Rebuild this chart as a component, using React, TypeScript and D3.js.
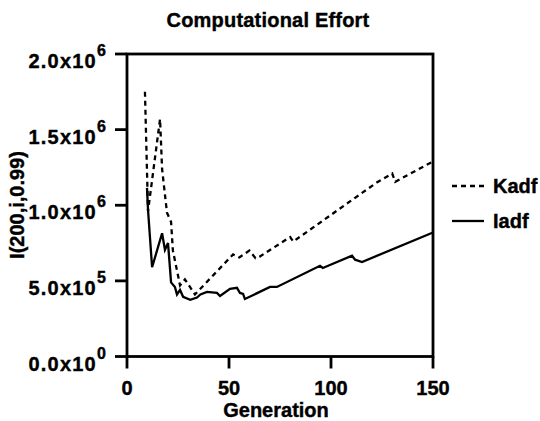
import React from 'react'
import * as d3 from 'd3'

// Kadf (dashed) — generation / computational effort
const kadfGen = [8.8, 10.3, 16.2, 17.2, 19.6, 21.6, 22.5, 26.0, 28.4, 33.3, 52, 55, 60, 63, 65, 80, 81.5, 122.4, 130, 131.5, 150]
const kadfVal = [1.75e6, 0.96e6, 1.57e6, 1.24e6, 0.95e6, 0.89e6, 0.7e6, 0.47e6, 0.51e6, 0.41e6, 0.675e6, 0.655e6, 0.7e6, 0.65e6, 0.66e6, 0.79e6, 0.76e6, 1.15e6, 1.21e6, 1.155e6, 1.29e6]

// Iadf (solid)
const iadfGen = [9.8, 10.3, 12.3, 17.2, 18.6, 20.1, 21.6, 23.5, 24.5, 26, 27.5, 31, 34.3, 36, 39.2, 44.1, 45.6, 50.5, 53.9, 55.4, 56.9, 57.8, 70.1, 73.5, 94.6, 96, 110.3, 111.8, 115.2, 150]
const iadfVal = [1.115e6, 0.97e6, 0.59e6, 0.815e6, 0.705e6, 0.75e6, 0.49e6, 0.46e6, 0.41e6, 0.44e6, 0.395e6, 0.375e6, 0.39e6, 0.41e6, 0.427e6, 0.42e6, 0.4e6, 0.447e6, 0.454e6, 0.42e6, 0.414e6, 0.38e6, 0.46e6, 0.46e6, 0.6e6, 0.585e6, 0.666e6, 0.64e6, 0.625e6, 0.82e6]

const xTicks = [0, 50, 100, 150]
const yTicks = [0, 5e5, 1e6, 1.5e6, 2e6]
const seriesNames = ['Kadf', 'Iadf']

const FONT = '"Liberation Sans", Arial, Helvetica, sans-serif'

function sciParts(v: number) {
  if (v === 0) return ['0.0', '0']
  const e = Math.floor(Math.log10(v))
  return [(v / Math.pow(10, e)).toFixed(1), String(e)]
}

export default function App() {
  const left = 127, right = 433, top = 54, bottom = 356.5
  const x = d3.scaleLinear().domain([0, 150]).range([left, right])
  const y = d3.scaleLinear().domain([0, 2e6]).range([bottom, top])

  const line = d3.line<[number, number]>().x((d) => x(d[0])).y((d) => y(d[1]))
  const kadf = kadfGen.map((g, i) => [g, kadfVal[i]] as [number, number])
  const iadf = iadfGen.map((g, i) => [g, iadfVal[i]] as [number, number])

  return (
    <svg width={540} height={421} style={{ position: 'absolute', left: 0, top: 0, background: '#fff' }}
      fontFamily={FONT} fontWeight="bold" stroke="none">
      <g fill="#000" stroke="#000" strokeWidth={0.4}>
        <text x={268} y={27} textAnchor="middle" fontSize={20} letterSpacing={0.2}>Computational Effort</text>

        {yTicks.map((t) => {
          const [m, e] = sciParts(t)
          return (
            <text key={t} x={107} y={y(t) + 14} textAnchor="end" fontSize={20} letterSpacing={1.2}>
              {m}x10<tspan dy={-12} fontSize={16}>{e}</tspan>
            </text>
          )
        })}

        {xTicks.map((t) => (
          <text key={t} x={x(t)} y={395} textAnchor="middle" fontSize={20}>{t}</text>
        ))}

        <text x={276} y={417} textAnchor="middle" fontSize={20}>Generation</text>
        <text transform={`translate(24,205) rotate(-90)`} textAnchor="middle" fontSize={20}>I(200,i,0.99)</text>

        <text x={493} y={193} fontSize={20}>{seriesNames[0]}</text>
        <text x={493} y={228} fontSize={20}>{seriesNames[1]}</text>
      </g>

      {/* frame */}
      <rect x={left} y={top} width={right - left} height={bottom - top} fill="none" stroke="#000" strokeWidth={2.8} />

      {yTicks.map((t) => (
        <line key={t} x1={left - 12} x2={left} y1={y(t)} y2={y(t)} stroke="#000" strokeWidth={2.8} />
      ))}
      {xTicks.map((t) => (
        <line key={t} x1={x(t)} x2={x(t)} y1={bottom} y2={bottom + 12} stroke="#000" strokeWidth={2.8} />
      ))}

      <path d={line(kadf) || ''} fill="none" stroke="#000" strokeWidth={2.3} strokeDasharray="5,4" />
      <path d={line(iadf) || ''} fill="none" stroke="#000" strokeWidth={2.3} />

      {/* legend */}
      <line x1={452} x2={484} y1={186} y2={186} stroke="#000" strokeWidth={2.3} strokeDasharray="5,4" />
      <line x1={452} x2={484} y1={221} y2={221} stroke="#000" strokeWidth={2.3} />
    </svg>
  )
}
